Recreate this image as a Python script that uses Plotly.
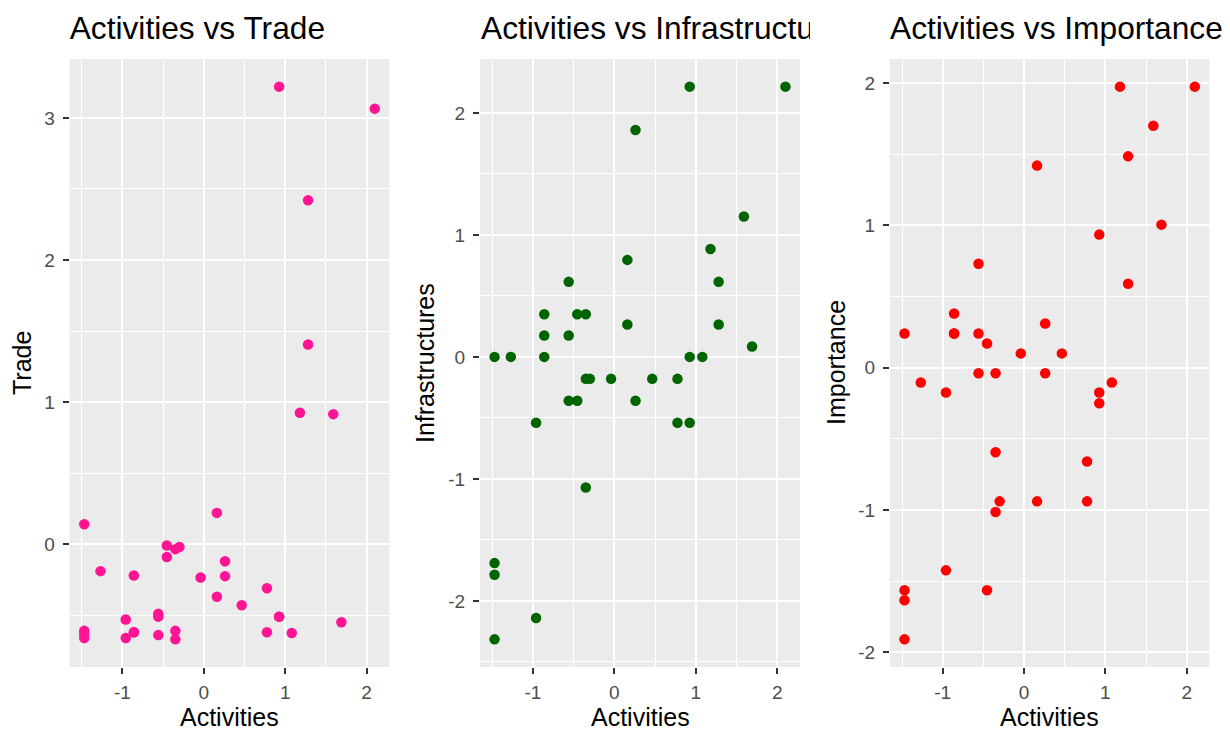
import plotly.graph_objects as go

# ---------------- data ----------------
activities = [
    -1.47, -1.47, -1.47, -1.47,
    -1.27,
    -0.96, -0.96,
    -0.86, -0.86, -0.86,
    -0.56, -0.56, -0.56,
    -0.455, -0.455,
    -0.35, -0.35, -0.35,
    -0.30,
    -0.04,
    0.16, 0.16,
    0.26, 0.26,
    0.465,
    0.775, 0.775,
    0.925, 0.925, 0.925,
    1.08,
    1.18,
    1.28, 1.28,
    1.59,
    1.69,
    2.10,
]
trade = [
    0.14, -0.61, -0.63, -0.66,
    -0.19,
    -0.53, -0.66,
    -0.22, -0.62, -0.62,
    -0.49, -0.51, -0.64,
    -0.01, -0.09,
    -0.035, -0.61, -0.67,
    -0.02,
    -0.235,
    0.22, -0.37,
    -0.12, -0.225,
    -0.43,
    -0.31, -0.62,
    3.22, -0.51, -0.51,
    -0.625,
    0.925,
    2.42, 1.405,
    0.915,
    -0.55,
    3.065,
]
infrastructures = [
    0.0, -1.69, -1.785, -2.315,
    0.0,
    -0.54, -2.14,
    0.35, 0.175, 0.0,
    0.615, 0.175, -0.36,
    0.35, -0.36,
    0.35, -0.18, -1.07,
    -0.18,
    -0.18,
    0.795, 0.265,
    1.86, -0.36,
    -0.18,
    -0.18, -0.54,
    2.215, 0.0, -0.54,
    0.0,
    0.885,
    0.615, 0.265,
    1.15,
    0.085,
    2.215,
]
importance = [
    0.24, -1.565, -1.635, -1.91,
    -0.105,
    -0.175, -1.425,
    0.38, 0.24, 0.24,
    0.73, 0.24, -0.04,
    0.17, -1.565,
    -0.04, -0.595, -1.015,
    -0.94,
    0.10,
    1.42, -0.94,
    0.31, -0.04,
    0.10,
    -0.66, -0.94,
    0.935, -0.175, -0.25,
    -0.105,
    1.975,
    1.485, 0.59,
    1.70,
    1.005,
    1.975,
]

x_ticks = [-1, 0, 1, 2]
x_tick_labels = ["-1", "0", "1", "2"]
trade_ticks = [0, 1, 2, 3]
trade_tick_labels = ["0", "1", "2", "3"]
infra_ticks = [-2, -1, 0, 1, 2]
infra_tick_labels = ["-2", "-1", "0", "1", "2"]
imp_ticks = [-2, -1, 0, 1, 2]
imp_tick_labels = ["-2", "-1", "0", "1", "2"]

titles = ["Activities vs Trade", "Activities vs Infrastructures", "Activities vs Importance"]
y_labels = ["Trade", "Infrastructures", "Importance"]
x_label = "Activities"
colors = ["#FF1493", "#006400", "#FF0000"]

# ---------------- layout helpers ----------------
W, H = 1230, 729
FONT = "Liberation Sans, Arial, sans-serif"
PANEL_TOP, PANEL_BOTTOM = 59, 667
panel_lr = [(69.7, 389.3), (480.0, 800.0), (890.0, 1209.3)]
ytitle_x = [22, 425, 836]
TITLE_CLIP = 810


def expand(v, mult=0.05):
    lo, hi = min(v), max(v)
    d = (hi - lo) * mult
    return [lo - d, hi + d]


def minor_vals(ticks):
    step = ticks[1] - ticks[0]
    vals = [t + step / 2 for t in ticks]
    vals.insert(0, ticks[0] - step / 2)
    return vals


fig = go.Figure()
series = [
    (trade, trade_ticks, trade_tick_labels),
    (infrastructures, infra_ticks, infra_tick_labels),
    (importance, imp_ticks, imp_tick_labels),
]
ydom = [1 - PANEL_BOTTOM / H, 1 - PANEL_TOP / H]
annotations = []

for i, ((yv, yt, ytl), (l, r)) in enumerate(zip(series, panel_lr)):
    n = "" if i == 0 else str(i + 1)
    fig.add_trace(go.Scatter(
        x=activities, y=yv, mode="markers",
        marker=dict(color=colors[i], size=10.5, line=dict(width=0)),
        xaxis="x" + n, yaxis="y" + n, showlegend=False, hoverinfo="skip",
        cliponaxis=True,
    ))
    common = dict(
        ticks="outside", ticklen=6, tickwidth=2, tickcolor="#333333",
        tickfont=dict(family=FONT, size=19, color="#4D4D4D"),
        showgrid=True, gridcolor="#FFFFFF", gridwidth=2,
        zeroline=False, showline=False, fixedrange=True,
    )
    fig.update_layout(**{
        "xaxis" + n: dict(
            domain=[l / W, r / W], anchor="y" + n, range=expand(activities),
            tickmode="array", tickvals=x_ticks, ticktext=x_tick_labels,
            minor=dict(tickmode="array", tickvals=minor_vals(x_ticks),
                       showgrid=True, gridcolor="#FFFFFF", gridwidth=1, ticks=""),
            ticklabelstandoff=2,
            **common,
        ),
        "yaxis" + n: dict(
            domain=ydom, anchor="x" + n, range=expand(yv),
            tickmode="array", tickvals=yt, ticktext=ytl,
            minor=dict(tickmode="array", tickvals=minor_vals(yt),
                       showgrid=True, gridcolor="#FFFFFF", gridwidth=1, ticks=""),
            ticklabelstandoff=4,
            **common,
        ),
    })
    fig.add_shape(type="rect", xref="x" + n + " domain", yref="y" + n + " domain",
                  x0=0, x1=1, y0=0, y1=1, fillcolor="#EBEBEB", line=dict(width=0),
                  layer="below")
    annotations.append(dict(
        text=x_label, xref="paper", yref="paper", x=(l + r) / 2 / W,
        y=1 - 716.5 / H, xanchor="center", yanchor="middle", showarrow=False,
        font=dict(family=FONT, size=25, color="#000000"),
    ))
    annotations.append(dict(
        text=y_labels[i], xref="paper", yref="paper", x=ytitle_x[i] / W,
        y=1 - (PANEL_TOP + PANEL_BOTTOM) / 2 / H, xanchor="center", yanchor="middle",
        textangle=-90, showarrow=False,
        font=dict(family=FONT, size=25, color="#000000"),
    ))

# Titles as text traces so that the middle one is clipped like the reference
title_axis = dict(visible=False, fixedrange=True)
fig.update_layout(
    xaxis4=dict(domain=[0, 1], range=[0, W], anchor="y4", **title_axis),
    yaxis4=dict(domain=[1 - 58 / H, 1], range=[58, 0], anchor="x4", **title_axis),
    xaxis5=dict(domain=[0, TITLE_CLIP / W], range=[0, TITLE_CLIP], anchor="y5", **title_axis),
    yaxis5=dict(domain=[1 - 58 / H, 1], range=[58, 0], anchor="x5", **title_axis),
)
title_font = dict(family=FONT, size=31.7, color="#000000")
fig.add_trace(go.Scatter(
    x=[panel_lr[0][0], panel_lr[2][0]], y=[31, 31], mode="text",
    text=[titles[0], titles[2]], textposition="middle right", textfont=title_font,
    xaxis="x4", yaxis="y4", showlegend=False, hoverinfo="skip", cliponaxis=False,
))
fig.add_trace(go.Scatter(
    x=[panel_lr[1][0] + 1], y=[31], mode="text",
    text=[titles[1]], textposition="middle right", textfont=title_font,
    xaxis="x5", yaxis="y5", showlegend=False, hoverinfo="skip", cliponaxis=True,
))

fig.update_layout(
    width=W, height=H, margin=dict(l=0, r=0, t=0, b=0),
    paper_bgcolor="#FFFFFF", plot_bgcolor="rgba(0,0,0,0)",
    annotations=annotations, showlegend=False,
)

fig.write_html(
    "out.html",
    config={"displayModeBar": False, "staticPlot": True},
    post_script="document.body.style.margin='0';document.body.style.overflow='hidden';",
)
